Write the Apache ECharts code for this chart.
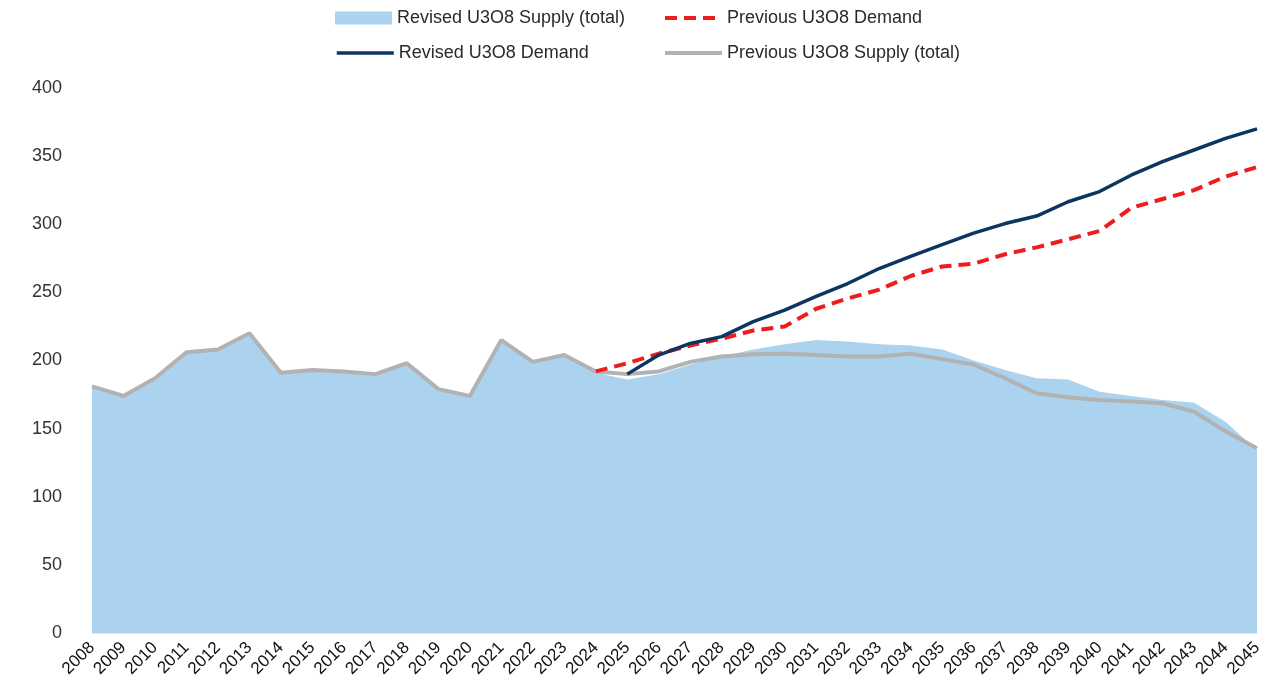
<!DOCTYPE html>
<html>
<head>
<meta charset="utf-8">
<script src="https://cdn.jsdelivr.net/npm/echarts@6/dist/echarts.min.js"></script>
<style>
html,body{margin:0;padding:0;background:#fff;}
#chart{width:1274px;height:688px;}
</style>
</head>
<body>
<div id="chart"></div>
<script>
const years = ['2008','2009','2010','2011','2012','2013','2014','2015','2016','2017','2018','2019','2020','2021','2022','2023','2024','2025','2026','2027','2028','2029','2030','2031','2032','2033','2034','2035','2036','2037','2038','2039','2040','2041','2042','2043','2044','2045'];

const revisedSupply = [181,174,187,206,208,220,191,193,192,190,198,179,174,215,199,204,191,186,190,197,203,208,212,215,214,212,211,208,200,193,187,186,177,174,171,169,155,134];

const previousSupply = [181,174,187,206,208,220,191,193,192,190,198,179,174,215,199,204,192,190,192,199,203,204.5,205,204,203,203,205,201,197,187,176,173,171,170,168.6,162.5,148,135.6];

const revisedDemand = [null,null,null,null,null,null,null,null,null,null,null,null,null,null,null,null,null,190,204,212.5,217.5,228.5,237,247,256.5,267.5,276.5,285,293.5,300.5,306,316.5,324,336,346,354.5,363,370];

const previousDemand = [null,null,null,null,null,null,null,null,null,null,null,null,null,null,null,null,192,198,205,211,216,222,225,238,245.5,252,262,269,271,278,283,289,295,312,318.5,325,335,342];

const yTicks = [0,50,100,150,200,250,300,350,400];

const chart = echarts.init(document.getElementById('chart'));
const font = 'Liberation Sans, Arial, sans-serif';

const C_AREA = '#abd2ee';
const C_NAVY = '#0c3560';
const C_RED = '#ee1c1c';
const C_GRAY = '#b2b2b2';

function leg(name, left, top, icon, lw) {
  const o = {
    data: [name], left: left, top: top,
    itemWidth: 57, itemHeight: icon === 'rect' ? 13 : 14,
    textStyle: {fontFamily: font, fontSize: 18, color: '#2a2a2a'},
    selectedMode: false
  };
  if (icon) o.icon = icon;
  else {
    o.itemStyle = {opacity: 0};
    o.lineStyle = {width: lw};
  }
  return o;
}

chart.setOption({
  animation: false,
  backgroundColor: '#fff',
  legend: [
    leg('Revised U3O8 Supply (total)', 330, 4, 'rect'),
    leg('Previous U3O8 Demand', 658, 4, null, 4),
    leg('Revised U3O8 Demand', 330, 39, null, 3.5),
    leg('Previous U3O8 Supply (total)', 658, 39, null, 4)
  ],
  grid: {left: 92, right: 17, top: 88, bottom: 55, containLabel: false},
  xAxis: {
    type: 'category',
    data: years,
    boundaryGap: false,
    axisLine: {show: true, lineStyle: {color: '#e6e6e6', width: 1}},
    axisTick: {show: false},
    axisLabel: {rotate: 45, fontFamily: font, fontSize: 17, color: '#111', margin: 12, interval: 0}
  },
  yAxis: {
    type: 'value',
    min: yTicks[0], max: yTicks[yTicks.length - 1], interval: 50,
    splitLine: {show: false},
    axisLine: {show: false},
    axisTick: {show: false},
    axisLabel: {fontFamily: font, fontSize: 18, color: '#333', margin: 30}
  },
  series: [
    {
      name: 'Revised U3O8 Supply (total)', type: 'line', data: revisedSupply,
      symbol: 'none', lineStyle: {width: 0, color: C_AREA},
      itemStyle: {color: C_AREA},
      areaStyle: {color: C_AREA, opacity: 1}, z: 1
    },
    {
      name: 'Previous U3O8 Supply (total)', type: 'line', data: previousSupply,
      symbol: 'none', lineStyle: {width: 4, color: C_GRAY}, itemStyle: {color: C_GRAY}, z: 2
    },
    {
      name: 'Previous U3O8 Demand', type: 'line', data: previousDemand,
      symbol: 'none', lineStyle: {width: 4, color: C_RED, type: [12, 7]}, itemStyle: {color: C_RED}, z: 3
    },
    {
      name: 'Revised U3O8 Demand', type: 'line', data: revisedDemand,
      symbol: 'none', lineStyle: {width: 3.5, color: C_NAVY}, itemStyle: {color: C_NAVY}, z: 4
    }
  ]
});
</script>
</body>
</html>
